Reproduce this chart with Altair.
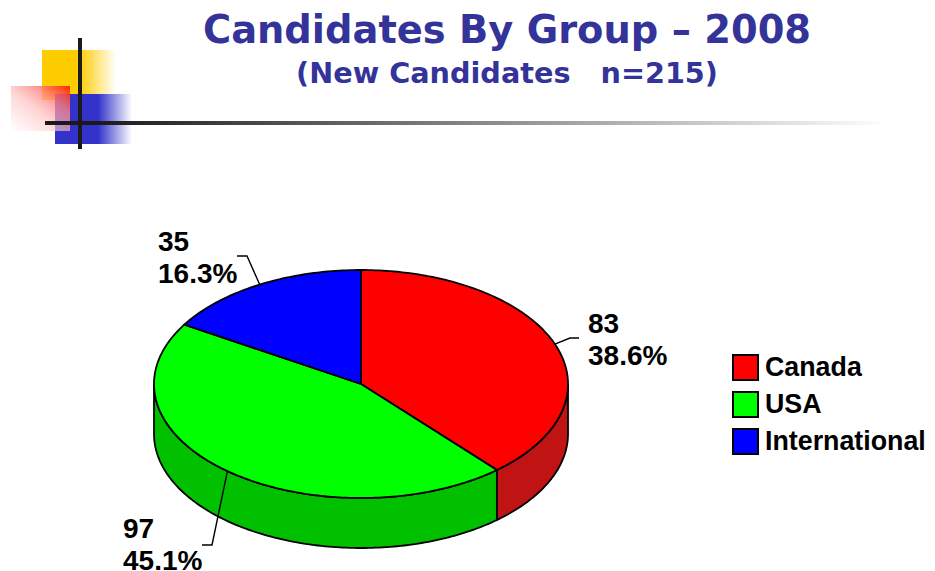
import math
import altair as alt
import pandas as pd

# ---- data
groups = ["Canada", "USA", "International"]
counts = [83, 97, 35]
percents = ["38.6%", "45.1%", "16.3%"]
top_colors = ["#FF0000", "#00FF00", "#0000FF"]
wall_colors = ["#C01414", "#00C000", "#0000C0"]
title_text = "Candidates By Group \u2013 2008"
subtitle_text = "(New Candidates\u00a0\u00a0\u00a0n=215)"

# ---- layout (page pixels)
W, H = 919, 570
OX, OY = 8, 8
CX, CY, RX, RY = 361, 384, 207, 114
DEPTH = 50 / RY
label_anchor = {"Canada": (588, 333), "USA": (123, 538), "International": (158, 251)}
leader_bends = {
    "Canada": [(570, 338), (579, 338)],
    "USA": [(212, 545), (202, 545)],
    "International": [(247, 256), (237, 256)],
}


def ux(px):
    return (px - CX) / RX


def uy(py):
    return (CY - py) / RY


x_scale = alt.Scale(domain=[ux(OX), ux(OX + W)], nice=False, zero=False)
y_scale = alt.Scale(domain=[uy(OY + H), uy(OY)], nice=False, zero=False)
X = alt.X("x:Q", scale=x_scale, axis=None)
Y = alt.Y("y:Q", scale=y_scale, axis=None)

total = sum(counts)
bounds = []
a = 0.0
for c in counts:
    bounds.append((a, a + 360.0 * c / total))
    a += 360.0 * c / total


def pt(deg, drop=0.0):
    r = math.radians(deg)
    return math.sin(r), math.cos(r) - drop


def sweep(a0, a1):
    n = max(2, int(abs(a1 - a0)) + 1)
    return [a0 + (a1 - a0) * i / (n - 1) for i in range(n)]


layers = []

# ---- page decoration
def rect(x0, x1, y0, y1, grad):
    return alt.Chart(pd.DataFrame({"d": [0]})).mark_rect(fill=grad, stroke=None).encode(
        x=alt.value(x0 - OX), x2=alt.value(x1 - OX), y=alt.value(y0 - OY), y2=alt.value(y1 - OY)
    )


def hgrad(color, solid):
    return alt.LinearGradient(
        gradient="linear", x1=0, y1=0, x2=1, y2=0,
        stops=[
            alt.GradientStop(offset=0, color=color),
            alt.GradientStop(offset=solid, color=color),
            alt.GradientStop(offset=1, color="#FFFFFF"),
        ],
    )


layers.append(rect(42, 116, 50, 100, hgrad("#FFCC00", 0.5)))
layers.append(rect(55, 132, 94, 144, hgrad("#3333CC", 0.56)))
layers.append(rect(11, 70, 86, 131, alt.LinearGradient(
    gradient="linear", x1=1, y1=0, x2=0, y2=1,
    stops=[
        alt.GradientStop(offset=0, color="rgba(255,30,0,0.95)"),
        alt.GradientStop(offset=0.3, color="rgba(255,130,130,0.8)"),
        alt.GradientStop(offset=0.55, color="rgba(255,190,190,0.65)"),
        alt.GradientStop(offset=1, color="rgba(255,255,255,0.6)"),
    ],
)))
layers.append(rect(78, 82, 38, 149, "#1A1A1A"))
layers.append(rect(45, 890, 121, 125, hgrad("#1A1A1A", 0.06)))

# ---- titles
for txt, size, base in [(title_text, 38.4, 43), (subtitle_text, 28.7, 83)]:
    layers.append(
        alt.Chart(pd.DataFrame({"t": [txt]})).mark_text(
            font="DejaVu Sans", fontWeight="bold", fontSize=size, color="#333399",
            align="center", baseline="alphabetic",
        ).encode(text="t:N", x=alt.value(507 - OX), y=alt.value(base - OY))
    )

# ---- pie walls (visible side only)
for g, (a0, a1), col in zip(groups, bounds, wall_colors):
    lo, hi = max(a0, 90.0), min(a1, 270.0)
    if lo >= hi:
        continue
    pts = [pt(d) for d in sweep(lo, hi)] + [pt(d, DEPTH) for d in sweep(hi, lo)]
    pts.append(pts[0])
    df = pd.DataFrame({"x": [p[0] for p in pts], "y": [p[1] for p in pts], "o": range(len(pts))})
    layers.append(
        alt.Chart(df).mark_line(fill=col, stroke="#000000", strokeWidth=1.8, clip=False)
        .encode(x=X, y=Y, order="o:Q")
    )

# ---- pie top
rows = []
for g, (a0, a1) in zip(groups, bounds):
    pts = [(0.0, 0.0)] + [pt(d) for d in sweep(a0, a1)] + [(0.0, 0.0)]
    for i, p in enumerate(pts):
        rows.append({"group": g, "x": p[0], "y": p[1], "o": i})
top = alt.Chart(pd.DataFrame(rows)).mark_line(stroke="#000000", strokeWidth=1.8).encode(
    x=X, y=Y, order="o:Q",
    fill=alt.Fill(
        "group:N",
        scale=alt.Scale(domain=groups, range=top_colors),
        legend=alt.Legend(
            orient="none", legendX=732 - OX, legendY=354 - OY, title=None, padding=0,
            symbolType="square", symbolSize=625, symbolStrokeColor="#000000",
            symbolStrokeWidth=2, symbolOpacity=1,
            labelFont="Liberation Sans", labelFontWeight="bold", labelFontSize=26.8,
            labelColor="#000000", labelLimit=300, labelOffset=6, rowPadding=4,
        ),
    ),
)
layers.append(top)

# ---- leaders and labels
for g, c, p, (a0, a1) in zip(groups, counts, percents, bounds):
    start = pt((a0 + a1) / 2)
    pts = [start] + [(ux(bx), uy(by)) for bx, by in leader_bends[g]]
    df = pd.DataFrame({"x": [q[0] for q in pts], "y": [q[1] for q in pts], "o": range(len(pts))})
    layers.append(
        alt.Chart(df).mark_line(color="#000000", strokeWidth=1.4).encode(x=X, y=Y, order="o:Q")
    )
    lx, ly = label_anchor[g]
    df = pd.DataFrame({"x": [ux(lx)], "y": [uy(ly)], "t": [f"{c}\n{p}"]})
    layers.append(
        alt.Chart(df).mark_text(
            font="Liberation Sans", fontWeight="bold", fontSize=28, color="#000000",
            align="left", baseline="alphabetic", lineBreak="\n", lineHeight=32,
        ).encode(x=X, y=Y, text="t:N")
    )

chart = (
    alt.layer(*layers)
    .properties(width=W, height=H, padding=0, autosize=alt.AutoSizeParams(type="none"))
    .configure_view(stroke=None)
)
chart.save("out.html", embed_options={"renderer": "svg", "actions": False})
